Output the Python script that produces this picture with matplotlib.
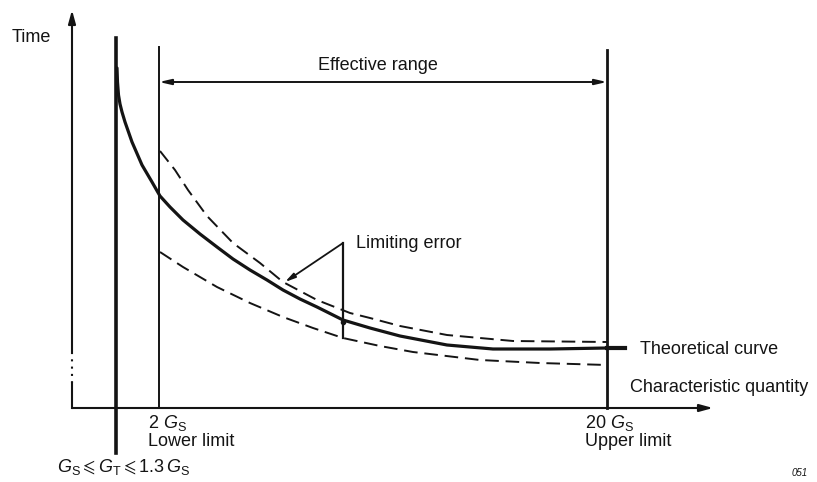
import numpy as np
import matplotlib
matplotlib.use("Agg")
import matplotlib.pyplot as plt

plt.rcParams['font.family'] = ['Liberation Sans', 'DejaVu Sans']
plt.rcParams['mathtext.fontset'] = 'custom'
plt.rcParams['mathtext.rm'] = 'Liberation Sans'
plt.rcParams['mathtext.it'] = 'Liberation Sans:italic'

# schematic coordinates (diagram units, y grows downward like the drawing)
origin_x, origin_y = 72, 408
x_gs, x_lower, x_upper = 116, 159, 607

# theoretical curve
theo_x = [117, 117.5, 118.5, 120, 122, 125, 132, 142, 152, 160, 170, 183, 200,
          217, 233, 250, 267, 283, 300, 317, 343, 370, 400, 447, 493, 550, 607]
theo_y = [68, 82, 95, 104, 112, 122, 142, 165, 182, 196, 207, 220, 234,
          247, 259, 270, 280, 290, 299, 307, 320, 328, 336, 345, 349, 349, 348]

# limiting error band
upper_x = [160, 175, 188, 207, 233, 260, 283, 317, 350, 370, 400, 447, 513, 607]
upper_y = [151, 170, 190, 216, 243, 263, 282, 300, 313, 318, 326, 335, 341, 342]
lower_x = [160, 183, 217, 250, 283, 313, 343, 380, 413, 480, 540, 607]
lower_y = [252, 267, 287, 303, 317, 328, 338, 346, 352, 360, 363, 365]

ink = '#141414'

fig = plt.figure(figsize=(8.17, 4.82), dpi=100)
ax = fig.add_axes([0, 0, 1, 1])
ax.set_xlim(0, 817)
ax.set_ylim(482, 0)
ax.axis('off')

# axes of the diagram
ax.annotate('', xy=(origin_x, 10), xytext=(origin_x, 352),
            arrowprops=dict(arrowstyle='-|>,head_length=0.8,head_width=0.22',
                            color=ink, lw=1.5, shrinkA=0, shrinkB=0))
ax.plot([origin_x, origin_x], [352, 383], color=ink, lw=1.5, ls=(0, (1, 2.5)))
ax.plot([origin_x, origin_x], [383, origin_y], color=ink, lw=1.5)
ax.annotate('', xy=(713, origin_y), xytext=(origin_x, origin_y),
            arrowprops=dict(arrowstyle='-|>,head_length=0.8,head_width=0.22',
                            color=ink, lw=1.5, shrinkA=0, shrinkB=0))

# vertical markers
ax.plot([x_gs, x_gs], [38, 453], color=ink, lw=2.6)
ax.plot([x_lower, x_lower], [47, origin_y], color=ink, lw=1.4)
ax.plot([x_upper, x_upper], [50, origin_y], color=ink, lw=2.0)

# effective range arrow
ax.annotate('', xy=(x_lower, 82), xytext=(x_upper, 82),
            arrowprops=dict(arrowstyle='<|-|>,head_length=0.7,head_width=0.16',
                            color=ink, lw=1.4, shrinkA=0, shrinkB=0))

# curves
ax.plot(theo_x, theo_y, color=ink, lw=2.3, solid_capstyle='round',
        solid_joinstyle='round')
ax.plot([x_upper, 625], [theo_y[-1], theo_y[-1]], color=ink, lw=3.0)
ax.plot(upper_x, upper_y, color=ink, lw=1.4, dashes=(7, 3.5))
ax.plot(lower_x, lower_y, color=ink, lw=1.4, dashes=(7, 3.5))

# limiting error pointer
ax.plot([343, 343], [243, 338], color=ink, lw=1.6)
ax.annotate('', xy=(285, 282), xytext=(343, 243),
            arrowprops=dict(arrowstyle='-|>,head_length=0.6,head_width=0.15',
                            color=ink, lw=1.3, shrinkA=0, shrinkB=0))
ax.plot([343], [322], marker='o', ms=3, color=ink)

# texts
fs = 13
ax.text(12, 37, 'Time', fontsize=fs, va='center', ha='left', color=ink)
ax.text(318, 65, 'Effective range', fontsize=fs, va='center', ha='left', color=ink)
ax.text(356, 243, 'Limiting error', fontsize=fs, va='center', ha='left', color=ink)
ax.text(640, 350, 'Theoretical curve', fontsize=fs, va='center', ha='left', color=ink)
ax.text(630, 388, 'Characteristic quantity', fontsize=fs, va='center', ha='left', color=ink)
ax.text(148, 423, r'2 $G_\mathrm{S}$', fontsize=fs, va='center', ha='left', color=ink)
ax.text(148, 442, 'Lower limit', fontsize=fs, va='center', ha='left', color=ink)
ax.text(585, 423, r'20 $G_\mathrm{S}$', fontsize=fs, va='center', ha='left', color=ink)
ax.text(585, 442, 'Upper limit', fontsize=fs, va='center', ha='left', color=ink)
ax.text(57, 467, r'$G_\mathrm{S} \leqslant G_\mathrm{T} \leqslant 1.3\,G_\mathrm{S}$',
        fontsize=fs, va='center', ha='left', color=ink)
ax.text(792, 473, '051', fontsize=7, va='center', ha='left', color=ink, style='italic')

fig.savefig('out.png', dpi=100)
